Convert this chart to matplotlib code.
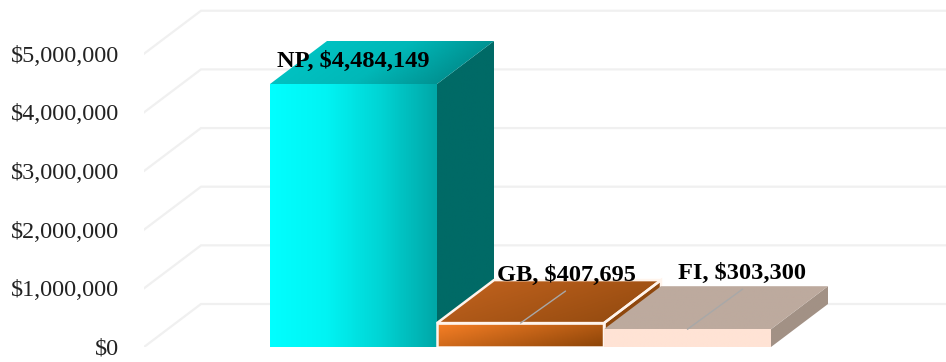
import numpy as np
import matplotlib
matplotlib.use("Agg")
import matplotlib.pyplot as plt
from matplotlib.colors import LinearSegmentedColormap
from matplotlib.patches import Polygon
from matplotlib.ticker import FuncFormatter

categories = ["NP", "GB", "FI"]
values = [4484149, 407695, 303300]
ticks = [0, 1000000, 2000000, 3000000, 4000000, 5000000]

# depth of the fake 3d box, in data units
DEPTH_X = 57 / 167
DEPTH_Y = 43 / 58.65 * 1e6

W, H = 946, 362
plt.rcParams['font.family'] = ['Liberation Serif', 'DejaVu Serif']

fig = plt.figure(figsize=(W / 100, H / 100), dpi=100)
ax = fig.add_axes([144 / W, 15 / H, 802 / W, 347 / H])
ax.set_xlim((144 - 270) / 167, (946 - 270) / 167)
ax.set_ylim(0, 347 / 58.65 * 1e6)
for s in ax.spines.values():
    s.set_visible(False)
ax.set_xticks([])
ax.set_yticks(ticks)
ax.yaxis.set_major_formatter(FuncFormatter(lambda v, p: "${:,.0f}".format(v)))
ax.tick_params(axis='y', length=0, pad=18, labelsize=17.4, labelcolor='#222222')

x0 = ax.get_xlim()[0]
x1 = ax.get_xlim()[1]
for t in ticks:
    ax.plot([x0, x0 + DEPTH_X, x1], [t, t + DEPTH_Y, t + DEPTH_Y],
            color='#f0f0f0', lw=1.6, zorder=1, solid_joinstyle='miter')


def gradient_poly(pts, colors, angle, z, edge=None):
    # angle 0 is left to right, 90 is top to bottom
    pts = np.array(pts)
    xs = np.linspace(0, 1, 64)
    ys = np.linspace(0, 1, 64)
    gx, gy = np.meshgrid(xs, ys)
    a = np.deg2rad(angle)
    g = gx * np.cos(a) + gy * np.sin(a)
    g = (g - g.min()) / (g.max() - g.min())
    cmap = LinearSegmentedColormap.from_list("g", colors)
    im = ax.imshow(g, cmap=cmap, aspect='auto', zorder=z, origin='upper',
                   extent=[pts[:, 0].min(), pts[:, 0].max(), pts[:, 1].min(), pts[:, 1].max()])
    clip = Polygon(pts, closed=True, transform=ax.transData, fc='none', ec='none')
    ax.add_patch(clip)
    im.set_clip_path(clip)
    if edge:
        ax.add_patch(Polygon(pts, closed=True, fc='none', ec=edge, lw=1.8, zorder=z + 0.3))


def box(i, v, front, top, side, z, edge=None):
    l, r = i, i + 1
    dx, dy = DEPTH_X, DEPTH_Y
    gradient_poly([(l, 0), (r, 0), (r, v), (l, v)], front[0], front[1], z, edge)
    gradient_poly([(l, v), (r, v), (r + dx, v + dy), (l + dx, v + dy)], top[0], top[1], z + 0.1, edge)
    gradient_poly([(r, 0), (r + dx, dy), (r + dx, v + dy), (r, v)], side[0], side[1], z + 0.05, edge)


box(0, values[0], (['#00ffff', '#00f4f4', '#00d4d4', '#00a8a8'], 0),
    (['#00c8c8', '#00b8b8', '#007a7a'], 15), (['#006a66', '#006a66'], 0), 3)
box(1, values[1], (['#f88026', '#8c4408'], 30), (['#c4641f', '#8f480e'], 30),
    (['#8f480e', '#8f480e'], 0), 4, edge='#fff4ec')
box(2, values[2], (['#ffe3d5', '#ffe3d5'], 0), (['#bdaa9e', '#bdaa9e'], 0),
    (['#a29185', '#a29185'], 0), 5)

# leader lines, label offsets are in pixels from the bar's top centre
leader_end = [None, (45, 32), (55, 40)]
label_pos = [(0, 23), (46, 48), (55, 56)]
for i, (c, v) in enumerate(zip(categories, values)):
    xy = (i + 0.5, v)
    if leader_end[i]:
        ax.annotate("", xy=xy, xytext=(leader_end[i][0] * 0.72, leader_end[i][1] * 0.72),
                    textcoords='offset points', zorder=7,
                    arrowprops=dict(arrowstyle='-', color='#a8a8a8', lw=1.0, shrinkA=0, shrinkB=0))
    ax.annotate("{}, ${:,.0f}".format(c, v), xy=xy, xytext=(label_pos[i][0] * 0.72, label_pos[i][1] * 0.72),
                textcoords='offset points', ha='center', va='center', fontsize=17.6,
                fontweight='bold', color='black', zorder=8, annotation_clip=False)

fig.savefig("out.png", dpi=100)
